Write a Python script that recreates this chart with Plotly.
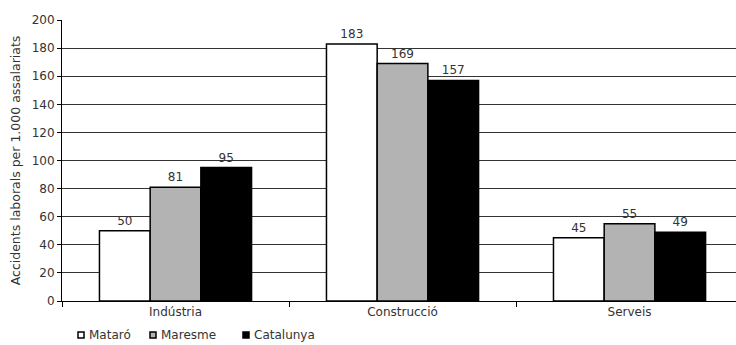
import plotly.graph_objects as go

sectors = ['Indústria', 'Construcció', 'Serveis']
mataro = [50, 183, 45]
maresme = [81, 169, 55]
catalunya = [95, 157, 49]

series = [
    ('Mataró', mataro, 'white'),
    ('Maresme', maresme, '#b3b3b3'),
    ('Catalunya', catalunya, 'black'),
]

# legend placement (px from left of figure)
legend_x = [78, 150, 243]

W, H = 736, 345
ML, MR, MT, MB = 62, 0, 20, 44
pw = W - ML - MR
ph = H - MT - MB

fig = go.Figure()
for (name, vals, col), lx in zip(series, legend_x):
    fig.add_trace(go.Bar(
        name=name,
        x=sectors,
        y=vals,
        text=vals,
        textposition='outside',
        cliponaxis=False,
        textfont=dict(size=12, color='#333'),
        marker=dict(color=col, line=dict(color='black', width=1.5)),
        showlegend=False,
    ))
    # small legend square + label below the plot
    x0 = (lx - ML) / pw
    x1 = (lx + 6 - ML) / pw
    ymid = -(335 - MT - ph) / ph
    fig.add_shape(type='rect', xref='paper', yref='paper',
                  x0=x0, x1=x1, y0=ymid - 3 / ph, y1=ymid + 3 / ph,
                  fillcolor=col, line=dict(color='black', width=1.5))
    fig.add_annotation(text=name, xref='paper', yref='paper',
                       x=(lx + 9 - ML) / pw, y=ymid, xanchor='left', yanchor='middle',
                       showarrow=False, font=dict(size=12, color='#333'))

fig.update_layout(
    width=W, height=H,
    margin=dict(l=ML, r=MR, t=MT, b=MB),
    plot_bgcolor='white', paper_bgcolor='white',
    font=dict(family='DejaVu Sans', size=12, color='#333'),
    barmode='group',
    bargap=0.33,
    bargroupgap=0,
)
fig.update_xaxes(
    range=[-0.5, 2.469],
    showline=True, linecolor='black', linewidth=1,
    ticks='outside', tickson='boundaries', ticklen=5, tickcolor='black',
    showgrid=False, automargin=False,
)
fig.update_yaxes(
    range=[0, 200], dtick=20,
    showline=True, linecolor='black', linewidth=1,
    ticks='outside', ticklen=4, tickcolor='black',
    showgrid=True, gridcolor='#333', gridwidth=1,
    zeroline=False, automargin=False,
    title=dict(text='Accidents laborals per 1.000 assalariats', font=dict(size=12.5), standoff=8),
)

# page body has a default 8px margin; drop it so the figure fills the window
fig.write_html("out.html", config={'displayModeBar': False},
               post_script="document.body.style.margin='0';")
